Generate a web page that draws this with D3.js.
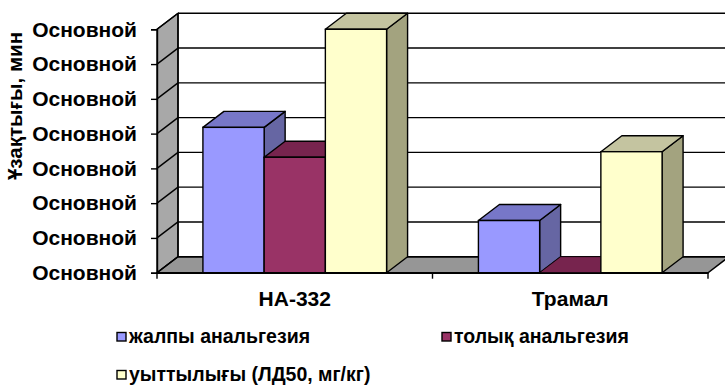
<!DOCTYPE html>
<html>
<head>
<meta charset="utf-8">
<script src="https://cdn.jsdelivr.net/npm/d3@7"></script>
<style>
  html, body { margin: 0; padding: 0; background: #fff; }
  svg { display: block; font-family: "Liberation Sans", Arial, sans-serif; font-weight: bold; }
</style>
</head>
<body>
<svg id="chart" width="725" height="386"></svg>
<script>
// Data
const categories = ["НА-332", "Трамал"];
const seriesNames = ["жалпы анальгезия", "толық анальгезия", "уыттылығы (ЛД50, мг/кг)"];
const analgesiaTotal = [4.18, 1.5];     // жалпы анальгезия
const analgesiaFull = [3.32, 0];        // толық анальгезия
const toxicity = [7.0, 3.48];           // уыттылығы (ЛД50, мг/кг)
const tickValues = [0, 1, 2, 3, 4, 5, 6, 7];
const tickLabels = ["Основной", "Основной", "Основной", "Основной", "Основной", "Основной", "Основной", "Основной"];
const yTitle = "Ұзақтығы, мин";

const seriesValues = [analgesiaTotal, analgesiaFull, toxicity];
const palette = [
  { front: "#9999FF", top: "#7777C8", side: "#6666A3" },
  { front: "#993366", top: "#77244E", side: "#6B2447" },
  { front: "#FFFFCC", top: "#C4C4A0", side: "#A3A37F" }
];

const svg = d3.select("#chart");

// Front plane geometry and 3D depth offset
const plotL = 157, plotR = 708, plotT = 29.3, plotB = 272.7;
const dx = 21, dy = -16;

const y = d3.scaleLinear().domain([0, 7]).range([plotB, plotT]);
const x = d3.scaleBand().domain(categories).range([plotL, plotR]).paddingInner(0).paddingOuter(0);
// 150% gap width: 3 bars + 1.5 bar widths of gap per category
const gapShare = 1.5 / 4.5;
const xs = d3.scaleBand().domain(seriesNames)
  .range([x.bandwidth() * gapShare / 2, x.bandwidth() * (1 - gapShare / 2)])
  .padding(0);

const stroke = "#000";
const sw = 1.4;
const pts = a => a.map(p => p.join(",")).join(" ");

// Back wall
svg.append("polygon")
  .attr("points", pts([[plotL + dx, plotT + dy], [plotR + dx + 30, plotT + dy], [plotR + dx + 30, plotB + dy], [plotL + dx, plotB + dy]]))
  .attr("fill", "#fff").attr("stroke", "none");

// Left side wall
svg.append("polygon")
  .attr("points", pts([[plotL, plotT], [plotL + dx, plotT + dy], [plotL + dx, plotB + dy], [plotL, plotB]]))
  .attr("fill", "#A8A8A8").attr("stroke", stroke).attr("stroke-width", sw);

// Floor
svg.append("polygon")
  .attr("points", pts([[plotL, plotB], [plotL + dx, plotB + dy], [plotR + dx, plotB + dy], [plotR, plotB]]))
  .attr("fill", "#969696").attr("stroke", stroke).attr("stroke-width", sw);

// Gridlines on the back wall and the side wall
const grid = svg.append("g");
tickValues.forEach(v => {
  grid.append("line")
    .attr("x1", plotL + dx).attr("x2", 740)
    .attr("y1", y(v) + dy).attr("y2", y(v) + dy)
    .attr("stroke", stroke).attr("stroke-width", sw);
  grid.append("line")
    .attr("x1", plotL).attr("x2", plotL + dx)
    .attr("y1", y(v)).attr("y2", y(v) + dy)
    .attr("stroke", stroke).attr("stroke-width", sw);
});
grid.append("line")
  .attr("x1", plotL + dx).attr("x2", plotL + dx)
  .attr("y1", plotT + dy).attr("y2", plotB + dy)
  .attr("stroke", stroke).attr("stroke-width", sw);

// Bars: side face, top face, then front face
const bars = svg.append("g");
categories.forEach((cat, ci) => {
  seriesNames.forEach((s, si) => {
    const v = seriesValues[si][ci];
    const x0 = x(cat) + xs(s), x1 = x0 + xs.bandwidth();
    const y0 = y(0), y1 = y(v);
    const c = palette[si];
    if (v > 0) {
      bars.append("polygon")
        .attr("points", pts([[x1, y1], [x1 + dx, y1 + dy], [x1 + dx, y0 + dy], [x1, y0]]))
        .attr("fill", c.side).attr("stroke", stroke).attr("stroke-width", sw).attr("stroke-linejoin", "round");
    }
    bars.append("polygon")
      .attr("points", pts([[x0, y1], [x0 + dx, y1 + dy], [x1 + dx, y1 + dy], [x1, y1]]))
      .attr("fill", c.top).attr("stroke", stroke).attr("stroke-width", v > 0 ? sw : 0.6).attr("stroke-linejoin", "round");
    if (v > 0) {
      bars.append("rect")
        .attr("x", x0).attr("y", y1).attr("width", x1 - x0).attr("height", y0 - y1)
        .attr("fill", c.front).attr("stroke", stroke).attr("stroke-width", sw);
    }
  });
});

// Value axis (front left edge)
const yAxis = d3.axisLeft(y).tickValues(tickValues).tickSize(6).tickPadding(14)
  .tickFormat((d, i) => tickLabels[i]);
const ya = svg.append("g").attr("transform", `translate(${plotL},0)`).call(yAxis);
ya.select(".domain").attr("stroke", stroke).attr("stroke-width", sw);
ya.selectAll(".tick line").attr("stroke", stroke).attr("stroke-width", sw);
ya.selectAll(".tick text")
  .attr("font-family", "'Liberation Sans', Arial, sans-serif")
  .attr("font-weight", "bold").attr("font-size", 21).attr("fill", "#000");

// Category axis (front bottom edge)
const xAxis = d3.axisBottom(x).tickSize(0).tickPadding(18);
const xa = svg.append("g").attr("transform", `translate(0,${plotB})`).call(xAxis);
xa.select(".domain").attr("stroke", stroke).attr("stroke-width", sw);
xa.selectAll(".tick text")
  .attr("font-family", "'Liberation Sans', Arial, sans-serif")
  .attr("font-weight", "bold").attr("font-size", 21).attr("fill", "#000");
// category separators
const seps = [plotL, ...categories.map(c => x(c) + x.bandwidth())];
xa.selectAll(".sep").data(seps).enter().append("line")
  .attr("x1", d => d).attr("x2", d => d).attr("y1", 0).attr("y2", 6)
  .attr("stroke", stroke).attr("stroke-width", sw);

// Axis title
svg.append("text")
  .attr("transform", "translate(22,106) rotate(-90)")
  .attr("text-anchor", "middle")
  .attr("font-size", 20.5).attr("fill", "#000")
  .text(yTitle);

// Legend (square position and text baseline per entry)
const legendPos = [[117, 343], [442, 343], [117, 381]];
const lg = svg.append("g");
seriesNames.forEach((s, i) => {
  const [lx, ly] = legendPos[i];
  lg.append("rect").attr("x", lx).attr("y", ly - 10.5).attr("width", 9).attr("height", 8.5)
    .attr("fill", palette[i].front).attr("stroke", stroke).attr("stroke-width", 1.4);
  lg.append("text").attr("x", lx + 12).attr("y", ly)
    .attr("font-size", 19.5).attr("fill", "#000").text(s);
});
</script>
</body>
</html>
